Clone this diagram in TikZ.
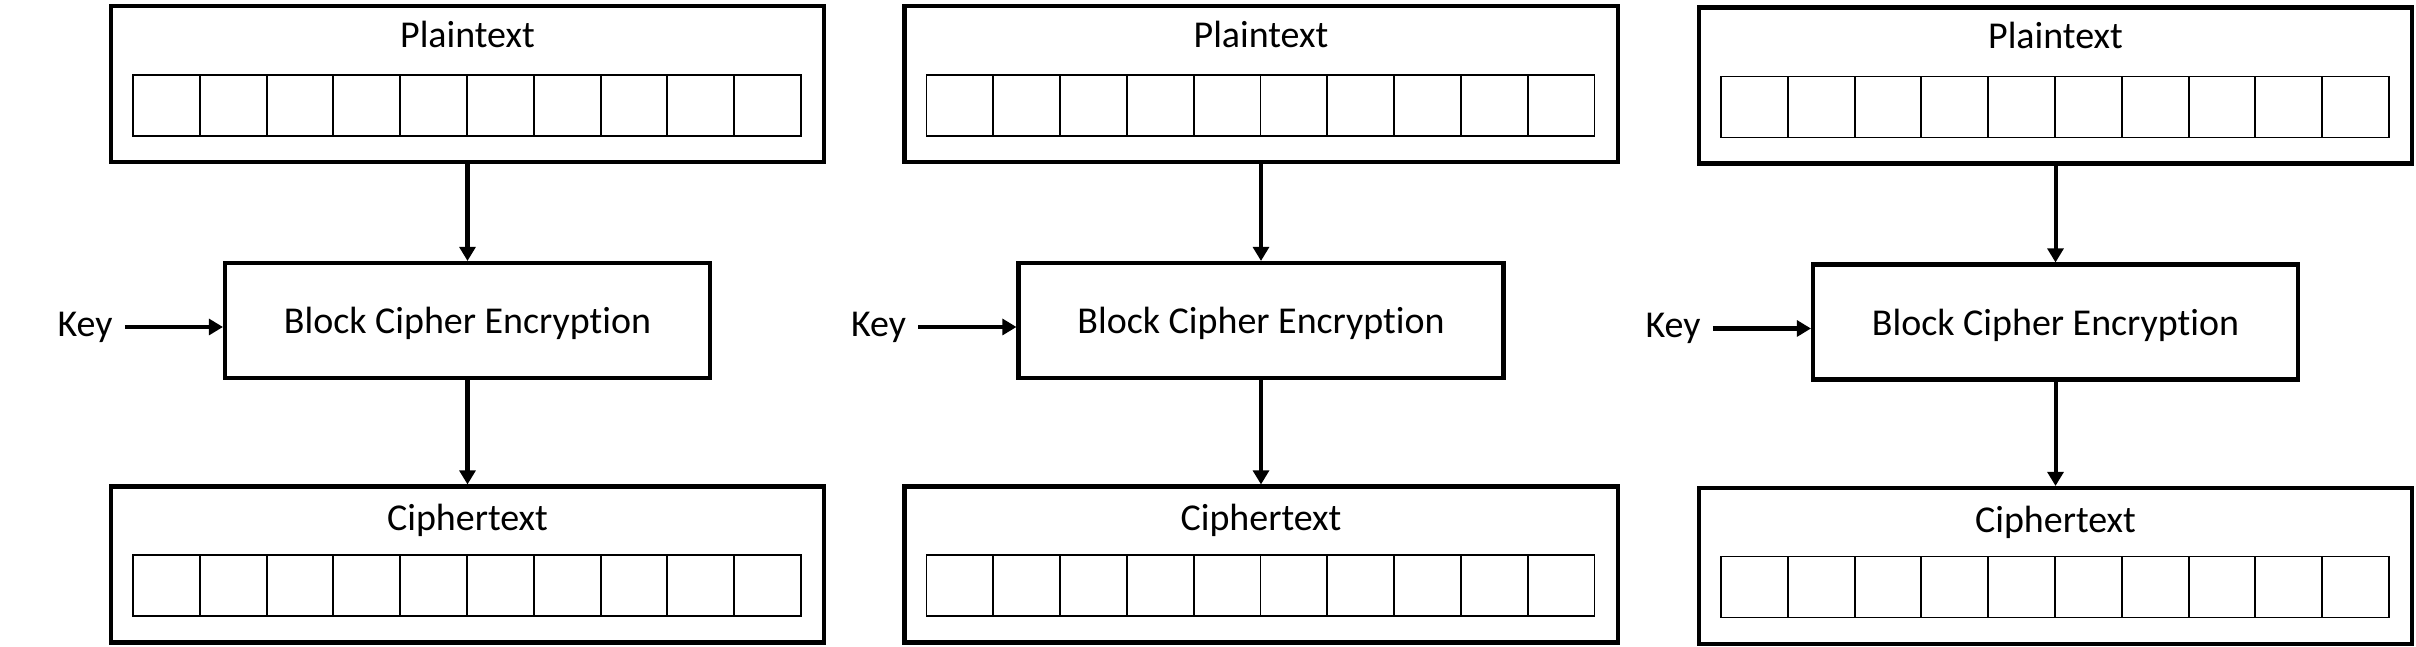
\documentclass[tikz,border=0pt]{standalone}
\usepackage{fontspec}
\setmainfont{Carlito}[Ligatures=NoCommon]
\usetikzlibrary{arrows.meta}

\begin{document}
\begin{tikzpicture}[>={Triangle[length=4pt,width=4.5pt]},font=\fontsize{10.8}{13}\selectfont]
\tikzstyle{outer}=[draw,line width=1.15pt,minimum width=7.13cm,minimum height=1.56cm,inner sep=0pt]
\tikzstyle{enc}=[draw,line width=1.15pt,minimum width=4.85cm,minimum height=1.15cm,text height=0.35cm,text depth=0.08cm]
\tikzstyle{cell}=[draw,line width=0.55pt,minimum width=0.668cm,minimum height=0.61cm,inner sep=0pt]
\tikzstyle{flow}=[->,line width=1.15pt]
\useasboundingbox (0,0) rectangle (24.16,6.47);
\foreach \c/\x/\dy in {1/0/0,2/7.935/0,3/15.88/-0.015} {
  % plaintext block
  \node[outer] (pt\c) at (4.675+\x,5.63+\dy) {};
  \node (ptl\c) at (4.675+\x,6.13+\dy) {Plaintext};
  \foreach \k in {0,...,9} \node[cell] (ptc\c-\k) at (1.664+\x+0.668*\k,5.415+\dy) {};
  % cipher
  \node[enc] (enc\c) at (4.675+\x,3.265+\dy) {Block Cipher Encryption};
  \node (key\c) at (0.85+\x,3.2+\dy) {Key};
  % ciphertext block
  \node[outer] (ct\c) at (4.675+\x,0.825+\dy) {};
  \node (ctl\c) at (4.675+\x,1.265+\dy) {Ciphertext};
  \foreach \k in {0,...,9} \node[cell] (ctc\c-\k) at (1.664+\x+0.668*\k,0.615+\dy) {};
  \draw[flow] (pt\c) -- (enc\c);
  \draw[flow] (enc\c) -- (ct\c);
  \draw[flow] (key\c.east) -- (key\c.east -| enc\c.west);
}
\end{tikzpicture}
\end{document}
